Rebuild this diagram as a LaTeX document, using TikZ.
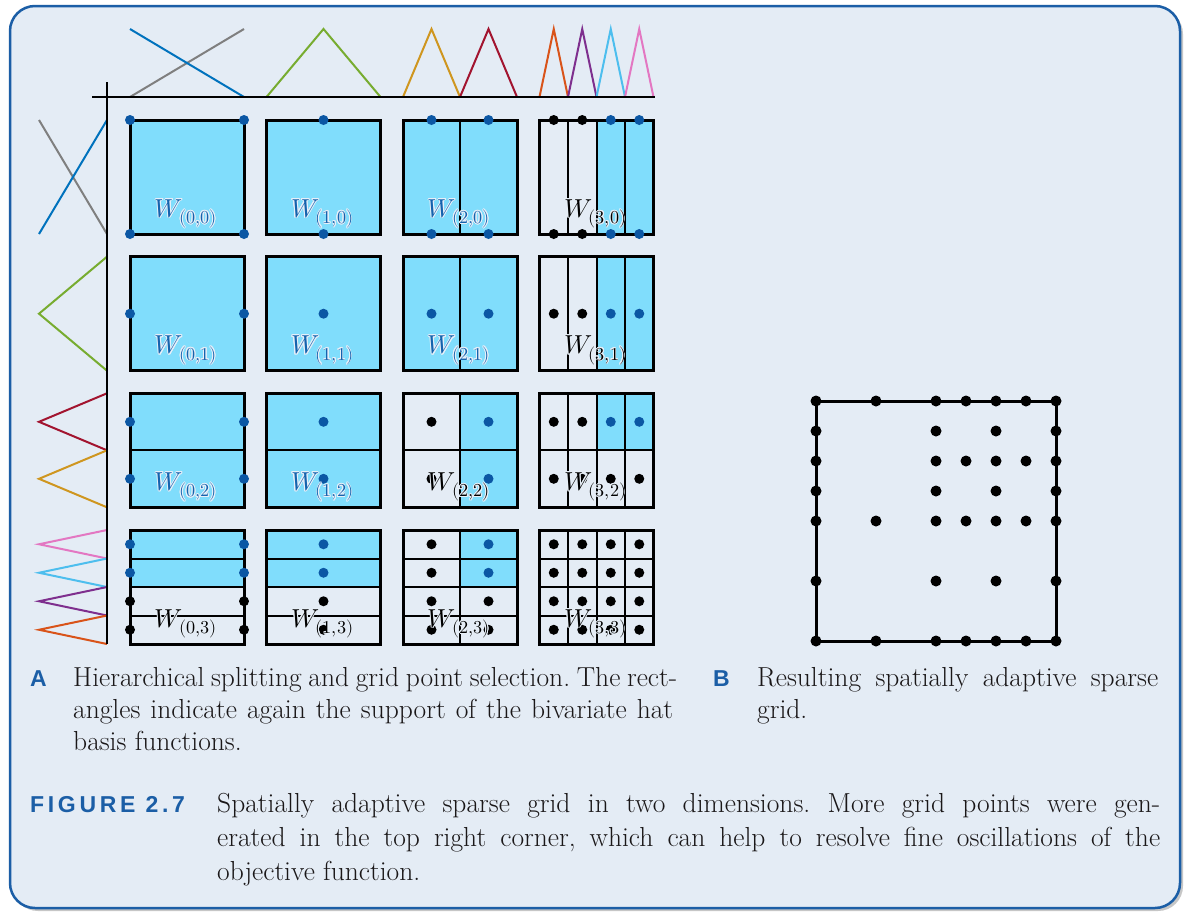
\documentclass[tikz,border=0pt]{standalone}
\usepackage{fontspec}
\usepackage{unicode-math}
\newfontfamily\capsans[LetterSpace=16]{Liberation Sans}
\usepackage[copies]{contour}
\contourlength{0.8pt}
\frenchspacing
\definecolor{bgc}{HTML}{E4ECF5}
\definecolor{haloc}{HTML}{E8F0F8}
\definecolor{framec}{HTML}{1B5EA6}
\definecolor{cyanc}{HTML}{80DDFC}
\definecolor{dotblue}{HTML}{0B57A4}
\definecolor{labblue}{HTML}{1563AE}
\definecolor{txtc}{HTML}{1A1718}
\definecolor{hblue}{HTML}{0072BD}
\definecolor{hgray}{HTML}{7F7F7F}
\definecolor{hgreen}{HTML}{77AC30}
\definecolor{hgold}{HTML}{CF961F}
\definecolor{hred}{HTML}{A2142F}
\definecolor{horange}{HTML}{D95319}
\definecolor{hpurple}{HTML}{7E2F8E}
\definecolor{hcyan}{HTML}{4DBEEE}
\definecolor{hpink}{HTML}{E377C2}
\tikzset{
  hat/.style={line width=2pt},
  axisline/.style={line width=2.5pt, black},
  cellfill/.style={fill=cyanc},
  border/.style={line width=3pt, black},
  inner/.style={line width=2pt, black},
  bd/.style={fill=dotblue},
  kd/.style={fill=black},
  lab/.style={inner sep=0pt, anchor=base, font=\fontsize{26}{30}\selectfont},
  lblue/.style={lab, text=labblue},
  lblack/.style={lab, text=black},
  captxt/.style={inner sep=0pt, anchor=base west, text=txtc, font=\fontsize{27.5}{32}\selectfont},
  capsf/.style={inner sep=0pt, anchor=base west, text=framec, font=\fontsize{23}{26}\selectfont\bfseries\capsans},
}
\newcommand\wlab[3]{\node[#1] (w#2) at ([xshift=-1pt,yshift=17pt]0.5,0) {\contour{haloc}{$W_{(#3)}$}};}
\begin{document}
\begin{tikzpicture}[x=1pt,y=-1pt]
\useasboundingbox (0,0) rectangle (1186,911);
\fill[white] (0,0) rectangle (1186,911);
% frame
\fill[gray!45, rounded corners=25pt] (13,9) rectangle (1183,911);
\draw[fill=bgc, draw=framec, line width=2.5pt, rounded corners=25pt] (10,6) rectangle (1180,908);

% top hats
\draw[hat, hgray] (130,97) -- (244,29);
\draw[hat, hblue] (130,29) -- (244,97);
\draw[hat, hgreen] (266.5,97) -- (323.5,29) -- (380.5,97);
\draw[hat, hgold] (403,97) -- (431.5,29) -- (460,97);
\draw[hat, hred] (460,97) -- (488.5,29) -- (517,97);
\draw[hat, horange] (539.5,97) -- (553.75,29) -- (568,97);
\draw[hat, hpurple] (568,97) -- (582.25,29) -- (596.5,97);
\draw[hat, hcyan] (596.5,97) -- (610.75,29) -- (625,97);
\draw[hat, hpink] (625,97) -- (639.25,29) -- (653.5,97);
% left hats
\draw[hat, hgray] (39,120) -- (107,234);
\draw[hat, hblue] (39,234) -- (107,120);
\draw[hat, hgreen] (107,256.7) -- (39,313.7) -- (107,370.7);
\draw[hat, hred] (107,393.3) -- (39,421.8) -- (107,450.3);
\draw[hat, hgold] (107,450.3) -- (39,478.8) -- (107,507.3);
\draw[hat, hpink] (107,530) -- (39,544.25) -- (107,558.5);
\draw[hat, hcyan] (107,558.5) -- (39,572.75) -- (107,587);
\draw[hat, hpurple] (107,587) -- (39,601.25) -- (107,615.5);
\draw[hat, horange] (107,615.5) -- (39,629.75) -- (107,644);
% axes
\draw[axisline] (92,97) -- (655,97);
\draw[axisline] (107,82) -- (107,644);

% ---- row 0
\begin{scope}[shift={(130,234)}, x=114pt, y=114pt]
  \fill[cellfill] (0,0) rectangle (1,1);
  \draw[border] (0,0) rectangle (1,1);
  \foreach \p in {(0,0),(1,0),(0,1),(1,1)} \fill[bd] \p circle (5pt);
  \wlab{lblue}{00}{0,0}
\end{scope}
\begin{scope}[shift={(266.5,234)}, x=114pt, y=114pt]
  \fill[cellfill] (0,0) rectangle (1,1);
  \draw[border] (0,0) rectangle (1,1);
  \foreach \p in {(0.5,0),(0.5,1)} \fill[bd] \p circle (5pt);
  \wlab{lblue}{10}{1,0}
\end{scope}
\begin{scope}[shift={(403,234)}, x=114pt, y=114pt]
  \fill[cellfill] (0,0) rectangle (1,1);
  \draw[inner] (0.5,0) -- (0.5,1);
  \draw[border] (0,0) rectangle (1,1);
  \foreach \p in {(0.25,0),(0.75,0),(0.25,1),(0.75,1)} \fill[bd] \p circle (5pt);
  \wlab{lblue}{20}{2,0}
\end{scope}
\begin{scope}[shift={(539.5,234)}, x=114pt, y=114pt]
  \fill[cellfill] (0.5,0) rectangle (1,1);
  \foreach \u in {0.25,0.5,0.75} \draw[inner] (\u,0) -- (\u,1);
  \draw[border] (0,0) rectangle (1,1);
  \foreach \p in {(0.125,0),(0.375,0),(0.125,1),(0.375,1)} \fill[kd] \p circle (5pt);
  \foreach \p in {(0.625,0),(0.875,0),(0.625,1),(0.875,1)} \fill[bd] \p circle (5pt);
  \wlab{lblack}{30}{3,0}
\end{scope}
% ---- row 1
\begin{scope}[shift={(130,370.7)}, x=114pt, y=114pt]
  \fill[cellfill] (0,0) rectangle (1,1);
  \draw[border] (0,0) rectangle (1,1);
  \foreach \p in {(0,0.5),(1,0.5)} \fill[bd] \p circle (5pt);
  \wlab{lblue}{01}{0,1}
\end{scope}
\begin{scope}[shift={(266.5,370.7)}, x=114pt, y=114pt]
  \fill[cellfill] (0,0) rectangle (1,1);
  \draw[border] (0,0) rectangle (1,1);
  \fill[bd] (0.5,0.5) circle (5pt);
  \wlab{lblue}{11}{1,1}
\end{scope}
\begin{scope}[shift={(403,370.7)}, x=114pt, y=114pt]
  \fill[cellfill] (0,0) rectangle (1,1);
  \draw[inner] (0.5,0) -- (0.5,1);
  \draw[border] (0,0) rectangle (1,1);
  \foreach \p in {(0.25,0.5),(0.75,0.5)} \fill[bd] \p circle (5pt);
  \wlab{lblue}{21}{2,1}
\end{scope}
\begin{scope}[shift={(539.5,370.7)}, x=114pt, y=114pt]
  \fill[cellfill] (0.5,0) rectangle (1,1);
  \foreach \u in {0.25,0.5,0.75} \draw[inner] (\u,0) -- (\u,1);
  \draw[border] (0,0) rectangle (1,1);
  \foreach \p in {(0.125,0.5),(0.375,0.5)} \fill[kd] \p circle (5pt);
  \foreach \p in {(0.625,0.5),(0.875,0.5)} \fill[bd] \p circle (5pt);
  \wlab{lblack}{31}{3,1}
\end{scope}
% ---- row 2
\begin{scope}[shift={(130,507.3)}, x=114pt, y=114pt]
  \fill[cellfill] (0,0) rectangle (1,1);
  \draw[inner] (0,0.5) -- (1,0.5);
  \draw[border] (0,0) rectangle (1,1);
  \foreach \p in {(0,0.25),(0,0.75),(1,0.25),(1,0.75)} \fill[bd] \p circle (5pt);
  \wlab{lblue}{02}{0,2}
\end{scope}
\begin{scope}[shift={(266.5,507.3)}, x=114pt, y=114pt]
  \fill[cellfill] (0,0) rectangle (1,1);
  \draw[inner] (0,0.5) -- (1,0.5);
  \draw[border] (0,0) rectangle (1,1);
  \foreach \p in {(0.5,0.25),(0.5,0.75)} \fill[bd] \p circle (5pt);
  \wlab{lblue}{12}{1,2}
\end{scope}
\begin{scope}[shift={(403,507.3)}, x=114pt, y=114pt]
  \fill[cellfill] (0.5,0) rectangle (1,1);
  \draw[inner] (0.5,0) -- (0.5,1);
  \draw[inner] (0,0.5) -- (1,0.5);
  \draw[border] (0,0) rectangle (1,1);
  \foreach \p in {(0.25,0.25),(0.25,0.75)} \fill[kd] \p circle (5pt);
  \foreach \p in {(0.75,0.25),(0.75,0.75)} \fill[bd] \p circle (5pt);
  \wlab{lblack}{22}{2,2}
\end{scope}
\begin{scope}[shift={(539.5,507.3)}, x=114pt, y=114pt]
  \fill[cellfill] (0.5,0.5) rectangle (1,1);
  \foreach \u in {0.25,0.5,0.75} \draw[inner] (\u,0) -- (\u,1);
  \draw[inner] (0,0.5) -- (1,0.5);
  \draw[border] (0,0) rectangle (1,1);
  \foreach \p in {(0.125,0.75),(0.375,0.75),(0.125,0.25),(0.375,0.25),(0.625,0.25),(0.875,0.25)} \fill[kd] \p circle (5pt);
  \foreach \p in {(0.625,0.75),(0.875,0.75)} \fill[bd] \p circle (5pt);
  \wlab{lblack}{32}{3,2}
\end{scope}
% ---- row 3
\begin{scope}[shift={(130,644)}, x=114pt, y=114pt]
  \fill[cellfill] (0,0.5) rectangle (1,1);
  \foreach \v in {0.25,0.5,0.75} \draw[inner] (0,\v) -- (1,\v);
  \draw[border] (0,0) rectangle (1,1);
  \foreach \p in {(0,0.875),(0,0.625),(1,0.875),(1,0.625)} \fill[bd] \p circle (5pt);
  \foreach \p in {(0,0.375),(0,0.125),(1,0.375),(1,0.125)} \fill[kd] \p circle (5pt);
  \wlab{lblack}{03}{0,3}
\end{scope}
\begin{scope}[shift={(266.5,644)}, x=114pt, y=114pt]
  \fill[cellfill] (0,0.5) rectangle (1,1);
  \foreach \v in {0.25,0.5,0.75} \draw[inner] (0,\v) -- (1,\v);
  \draw[border] (0,0) rectangle (1,1);
  \foreach \p in {(0.5,0.875),(0.5,0.625)} \fill[bd] \p circle (5pt);
  \foreach \p in {(0.5,0.375),(0.5,0.125)} \fill[kd] \p circle (5pt);
  \wlab{lblack}{13}{1,3}
\end{scope}
\begin{scope}[shift={(403,644)}, x=114pt, y=114pt]
  \fill[cellfill] (0.5,0.5) rectangle (1,1);
  \draw[inner] (0.5,0) -- (0.5,1);
  \foreach \v in {0.25,0.5,0.75} \draw[inner] (0,\v) -- (1,\v);
  \draw[border] (0,0) rectangle (1,1);
  \foreach \p in {(0.75,0.875),(0.75,0.625)} \fill[bd] \p circle (5pt);
  \foreach \p in {(0.25,0.875),(0.25,0.625),(0.25,0.375),(0.25,0.125),(0.75,0.375),(0.75,0.125)} \fill[kd] \p circle (5pt);
  \wlab{lblack}{23}{2,3}
\end{scope}
\begin{scope}[shift={(539.5,644)}, x=114pt, y=114pt]
  \foreach \u in {0.25,0.5,0.75} \draw[inner] (\u,0) -- (\u,1);
  \foreach \v in {0.25,0.5,0.75} \draw[inner] (0,\v) -- (1,\v);
  \draw[border] (0,0) rectangle (1,1);
  \foreach \u in {0.125,0.375,0.625,0.875} \foreach \v in {0.125,0.375,0.625,0.875} \fill[kd] (\u,\v) circle (5pt);
  \wlab{lblack}{33}{3,3}
\end{scope}

% ---- panel B
\begin{scope}[shift={(816,641)}, x=240pt, y=240pt]
  \draw[border] (0,0) rectangle (1,1);
  \foreach \u in {0,0.25,0.5,0.625,0.75,0.875,1} {
    \fill[kd] (\u,1) circle (5.5pt);
    \fill[kd] (\u,0) circle (5.5pt);
    \fill[kd] (\u,0.5) circle (5.5pt);
  }
  \foreach \u in {0,0.5,0.625,0.75,0.875,1} \fill[kd] (\u,0.75) circle (5.5pt);
  \foreach \u in {0,0.5,0.75,1} {
    \fill[kd] (\u,0.875) circle (5.5pt);
    \fill[kd] (\u,0.625) circle (5.5pt);
    \fill[kd] (\u,0.25) circle (5.5pt);
  }
\end{scope}

% ---- captions
\node[capsf] (labA) at (30,686) {A};
\node[captxt] (a1) at (73,686) {\makebox[604pt][s]{Hierarchical splitting and grid point selection. The rect-}};
\node[captxt] (a2) at (73,718) {\makebox[600pt][s]{angles indicate again the support of the bivariate hat}};
\node[captxt] (a3) at (73,750) {basis functions.};
\node[capsf] (labB) at (713,686) {B};
\node[captxt] (b1) at (757,686) {\makebox[401pt][s]{Resulting spatially adaptive sparse}};
\node[captxt] (b2) at (757,718) {grid.};
\node[capsf] (fig) at (30,812) {FIGURE 2.7};
\node[captxt] (f1) at (217,812) {\makebox[943pt][s]{Spatially adaptive sparse grid in two dimensions. More grid points were gen-}};
\node[captxt] (f2) at (217,846) {\makebox[943pt][s]{erated in the top right corner, which can help to resolve fine oscillations of the}};
\node[captxt] (f3) at (217,880) {objective function.};
\end{tikzpicture}
\end{document}
